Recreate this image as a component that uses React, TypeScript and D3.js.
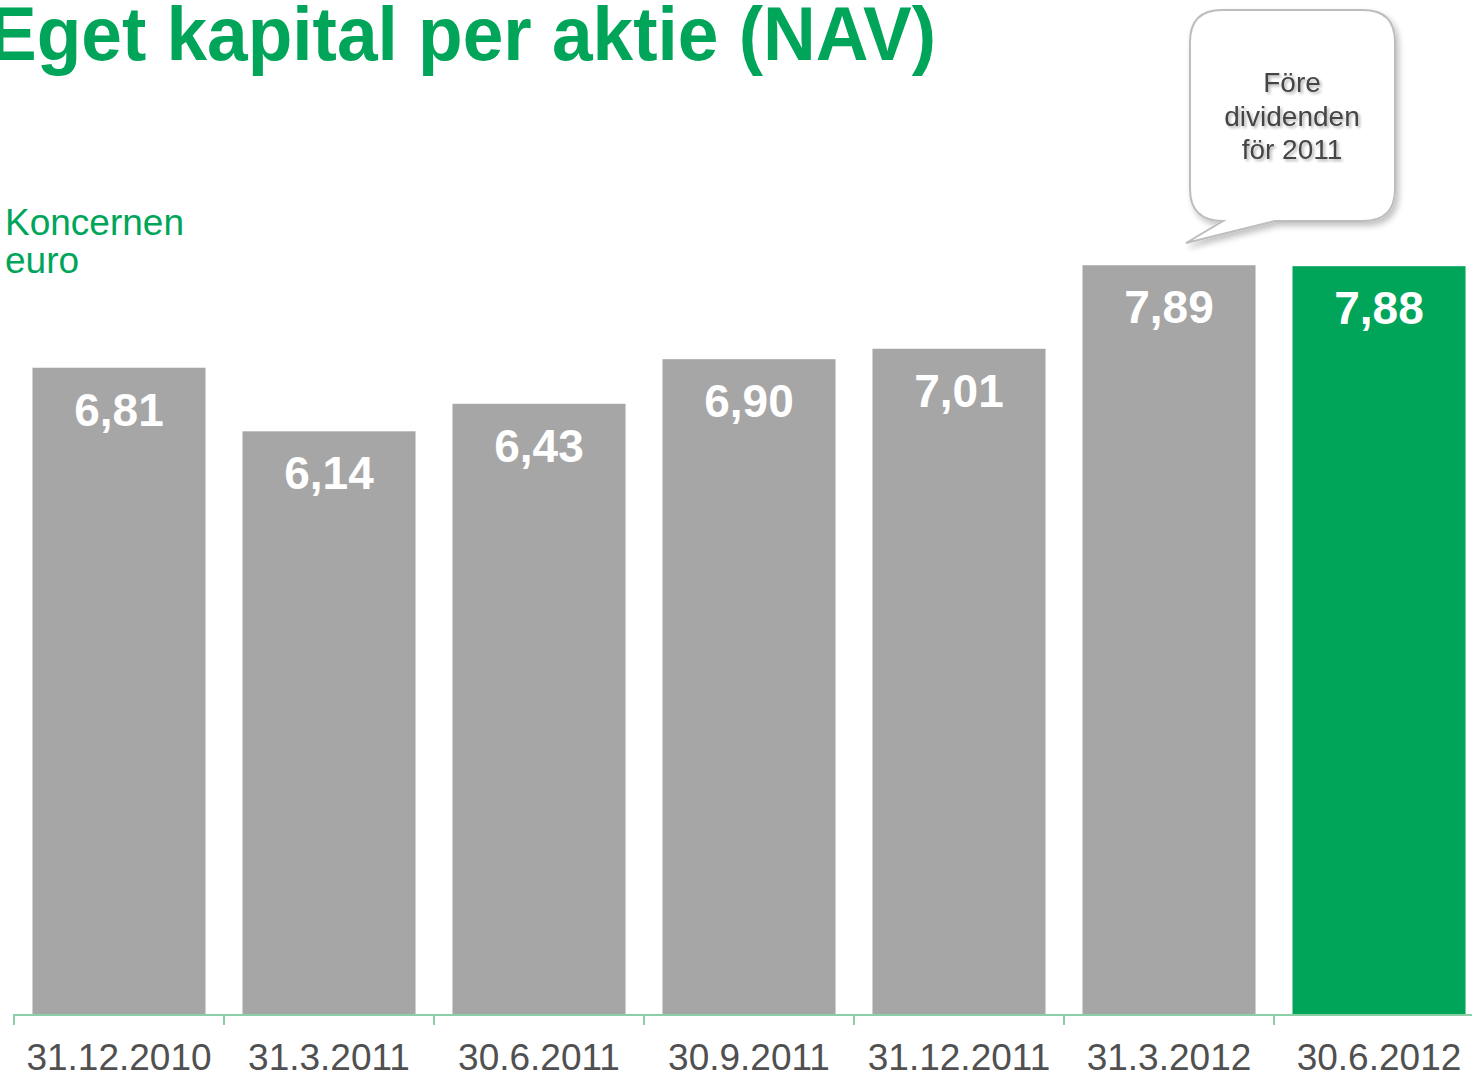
import React from "react";
import * as d3 from "d3";

const categories = ["31.12.2010", "31.3.2011", "30.6.2011", "30.9.2011", "31.12.2011", "31.3.2012", "30.6.2012"];
const values = [6.81, 6.14, 6.43, 6.9, 7.01, 7.89, 7.88];
const valueLabels = ["6,81", "6,14", "6,43", "6,90", "7,01", "7,89", "7,88"];
const highlight = [false, false, false, false, false, false, true];
const titleText = "Eget kapital per aktie (NAV)";
const unitLines = ["Koncernen", "euro"];
const calloutLines = ["Före", "dividenden", "för 2011"];

const W = 1472;
const H = 1076;
const GREEN = "#00A55A";
const GRAY = "#A6A6A6";
const FONT = "Arial, 'Liberation Sans', Helvetica, sans-serif";

export default function App() {
  const x = d3.scaleBand<string>().domain(categories).range([14, 14 + 7 * 210]).paddingInner(0.176).paddingOuter(0.088);
  const y = d3.scaleLinear().domain([0, 8]).range([1014, 1014 - 8 * 94.9]);
  const bw = x.bandwidth();

  // callout geometry
  const cx0 = 1190, cy0 = 10, cx1 = 1395, cy1 = 221, r = 32;
  const calloutPath = [
    `M${cx0 + r},${cy0}`,
    `L${cx1 - r},${cy0}`,
    `Q${cx1},${cy0} ${cx1},${cy0 + r}`,
    `L${cx1},${cy1 - r}`,
    `Q${cx1},${cy1} ${cx1 - r},${cy1}`,
    `L1275,${cy1}`,
    `L1186,243`,
    `L1223,${cy1}`,
    `Q${cx0},${cy1} ${cx0},${cy1 - r}`,
    `L${cx0},${cy0 + r}`,
    `Q${cx0},${cy0} ${cx0 + r},${cy0}`,
    "Z",
  ].join(" ");

  return (
    <svg width={W} height={H} style={{ position: "absolute", left: 0, top: 0, display: "block" }} fontFamily={FONT}>
      <defs>
        <filter id="sh" x="-20%" y="-20%" width="150%" height="150%">
          <feGaussianBlur in="SourceAlpha" stdDeviation="3" />
          <feOffset dx="3" dy="4" result="b" />
          <feComponentTransfer>
            <feFuncA type="linear" slope="0.25" />
          </feComponentTransfer>
          <feMerge>
            <feMergeNode />
            <feMergeNode in="SourceGraphic" />
          </feMerge>
        </filter>
        <filter id="tsh" x="-10%" y="-10%" width="130%" height="140%">
          <feGaussianBlur in="SourceAlpha" stdDeviation="1.5" />
          <feOffset dx="1.5" dy="2" result="b" />
          <feComponentTransfer>
            <feFuncA type="linear" slope="0.3" />
          </feComponentTransfer>
          <feMerge>
            <feMergeNode />
            <feMergeNode in="SourceGraphic" />
          </feMerge>
        </filter>
      </defs>
      <rect width={W} height={H} fill="#fff" />

      <text x={-12} y={60} fontSize={76} fontWeight="bold" fill={GREEN} textLength={948} lengthAdjust="spacingAndGlyphs">
        {titleText}
      </text>

      {unitLines.map((t, i) => (
        <text key={t} x={5} y={235 + i * 38} fontSize={37} fill={GREEN}>
          {t}
        </text>
      ))}

      <path d={calloutPath} fill="#fff" stroke="#BDBDBD" strokeWidth={2} filter="url(#sh)" />
      {calloutLines.map((t, i) => (
        <text key={t} x={1292} y={92 + i * 33.5} fontSize={28} fill="#444" textAnchor="middle" filter="url(#tsh)">
          {t}
        </text>
      ))}

      {categories.map((c, i) => (
        <g key={c}>
          <rect x={x(c)!} y={y(values[i])} width={bw} height={y(0) - y(values[i])} fill={highlight[i] ? GREEN : GRAY} />
          <text x={x(c)! + bw / 2} y={y(values[i]) + 58} fontSize={46} fontWeight="bold" fill="#fff" textAnchor="middle">
            {valueLabels[i]}
          </text>
          <text x={x(c)! + bw / 2} y={1070} fontSize={37} fill="#505050" textAnchor="middle">
            {c}
          </text>
        </g>
      ))}

      <line x1={14} x2={W} y1={1015} y2={1015} stroke="#8ACFA6" strokeWidth={2} />
      {categories.map((c, i) => {
        const tx = 14 + i * x.step();
        return <line key={"t" + c} x1={tx} x2={tx} y1={1014} y2={1025} stroke="#8ACFA6" strokeWidth={2} />;
      })}
    </svg>
  );
}
